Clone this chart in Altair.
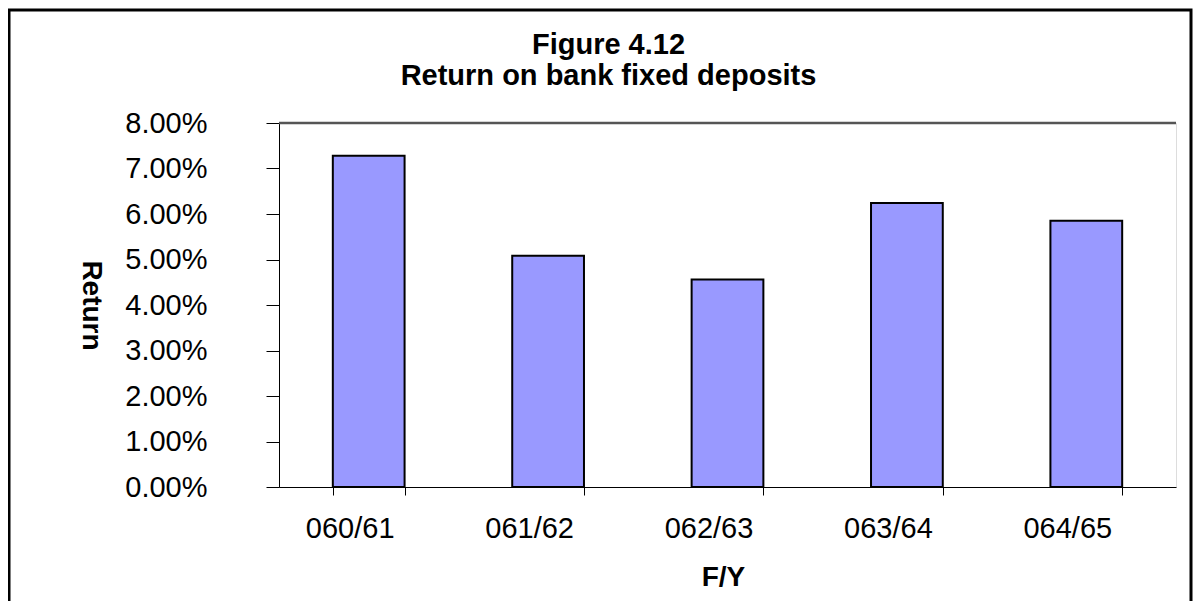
import altair as alt
import pandas as pd

years = ["060/61", "061/62", "062/63", "063/64", "064/65"]
returns = [0.0728, 0.0508, 0.0456, 0.0624, 0.0585]
y_ticks = [0.0, 0.01, 0.02, 0.03, 0.04, 0.05, 0.06, 0.07, 0.08]

df = pd.DataFrame({"FY": years, "Return": returns})

FONT = "Liberation Sans"
W, H = 897, 364

bars = alt.Chart(df).mark_bar(color="#9999FF", stroke="black", strokeWidth=2).encode(
    x=alt.X("FY:N", sort=years,
            scale=alt.Scale(paddingInner=0.6, paddingOuter=0.3),
            axis=alt.Axis(title="F/Y", labelAngle=0, tickBand="extent",
                          tickSize=8, labelPadding=19, labelOffset=-19,
                          labelFontSize=29, labelFont=FONT, labelColor="black",
                          domainColor="black", tickColor="black",
                          titleFont=FONT, titleFontSize=28, titleFontWeight="bold",
                          titleColor="black", titleX=444, titleY=90,
                          titleBaseline="middle", titleAlign="center")),
    y=alt.Y("Return:Q", scale=alt.Scale(domain=[0, 0.08], nice=False),
            axis=alt.Axis(title="Return", format=".2%", values=y_ticks,
                          grid=False, tickSize=13, labelPadding=59,
                          labelFontSize=29, labelFont=FONT, labelColor="black",
                          domainColor="black", tickColor="black",
                          titleFont=FONT, titleFontSize=28, titleFontWeight="bold",
                          titleColor="black", titleAngle=90, titleX=-189,
                          titleY=182, titleBaseline="middle", titleAlign="center")),
)

top_line = alt.Chart(pd.DataFrame({"v": [0.08]})).mark_rule(
    color="#555555", strokeWidth=2.5).encode(y="v:Q")

border = alt.Chart(pd.DataFrame({"a": [0]})).mark_rect(
    fill=None, stroke="black", strokeWidth=3).encode(
    x=alt.value(-270), x2=alt.value(912), y=alt.value(-113), y2=alt.value(700))

chart = alt.layer(border, bars, top_line).properties(
    width=W, height=H,
    title=alt.TitleParams(["Figure 4.12", "Return on bank fixed deposits"],
                          font=FONT, fontSize=29, fontWeight="bold", color="black",
                          anchor="middle", dx=-119, dy=112, offset=30, lineHeight=31),
    autosize=alt.AutoSizeParams(type="none"),
    padding={"left": 271, "top": 115, "right": 17, "bottom": 114},
).configure_view(strokeWidth=0).configure(background="white")

chart.save("out.html", embed_options={"renderer": "svg", "actions": False})
